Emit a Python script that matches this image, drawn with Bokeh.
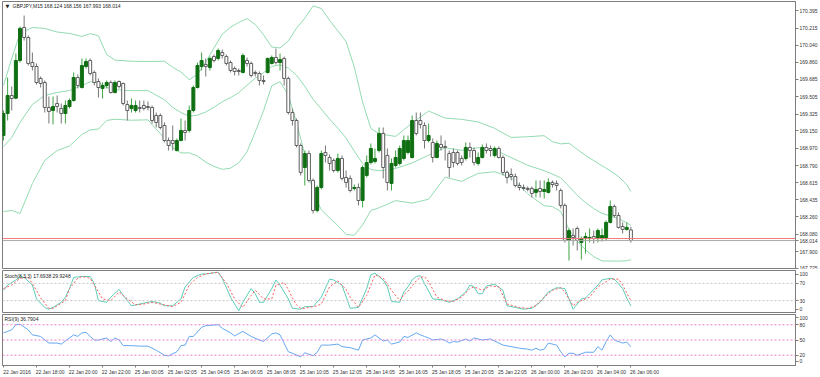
from bokeh.plotting import figure
from bokeh.layouts import column
from bokeh.models import (Range1d, FixedTicker, ColumnDataSource, Span, Label,
                          LinearAxis, PrintfTickFormatter)
from bokeh.embed import file_html
from bokeh.resources import INLINE

FONT = "Liberation Sans"

# ---------------- data (GBPJPY, M15) ----------------
opens = [169.103,169.331,169.517,169.490,169.880,170.222,170.118,169.859,169.818,169.694,
169.652,169.393,169.362,169.434,169.383,169.331,169.403,169.465,169.704,169.600,
169.818,169.880,169.756,169.662,169.590,169.621,169.652,169.548,169.662,169.642,
169.424,169.383,169.362,169.393,169.414,169.403,169.393,169.310,169.310,169.206,
169.051,169.051,168.947,169.051,169.155,169.155,169.362,169.600,169.818,169.838,
169.807,169.921,169.901,169.963,169.921,169.859,169.797,169.776,169.756,169.880,
169.849,169.756,169.745,169.673,169.756,169.849,169.911,169.859,169.901,169.694,
169.341,169.258,168.999,168.771,168.916,168.637,168.326,168.564,168.927,168.875,
168.844,168.740,168.865,168.668,168.658,168.554,168.564,168.429,168.689,168.823,
168.834,168.947,169.124,168.896,168.606,168.792,168.813,168.865,168.927,168.875,
169.258,169.258,169.206,169.051,169.030,168.875,169.010,168.989,168.916,168.927,
168.927,168.865,168.865,168.979,168.947,168.813,168.875,168.979,168.968,168.896,
168.968,168.875,168.720,168.699,168.678,168.585,168.564,168.554,168.554,168.513,
168.554,168.523,168.513,168.616,168.606,168.533,168.378,168.015,168.067,168.139,
167.994,168.035,168.035,168.056,168.035,168.035,168.035,168.202,168.367,168.274,
168.160,168.129,168.124]
highs = [169.362,169.704,169.611,169.952,170.232,170.346,170.139,169.963,169.849,169.714,
169.673,169.507,169.507,169.517,169.434,169.465,169.486,169.756,169.735,169.901,
169.901,169.901,169.776,169.694,169.652,169.673,169.673,169.673,169.673,169.652,
169.465,169.486,169.465,169.465,169.465,169.455,169.414,169.341,169.331,169.238,
169.082,169.206,169.072,169.279,169.258,169.414,169.621,169.859,169.963,169.901,
169.921,169.942,170.004,169.994,169.942,169.880,169.818,169.797,169.952,169.911,
169.870,169.776,169.766,169.725,169.911,169.932,170.004,169.952,169.921,169.714,
169.383,169.279,169.020,168.947,168.947,168.658,168.585,168.947,168.999,168.906,
168.865,168.916,168.896,168.740,168.689,168.595,168.606,168.792,168.896,169.020,
168.968,169.186,169.186,168.968,168.865,168.947,168.999,169.103,169.103,169.310,
169.341,169.341,169.238,169.227,169.072,169.051,169.103,169.051,168.947,168.968,
168.947,168.896,169.030,169.030,168.979,168.927,169.010,169.020,168.999,168.989,
168.989,168.896,168.740,168.761,168.709,168.616,168.595,168.575,168.575,168.637,
168.637,168.637,168.658,168.637,168.637,168.554,168.398,168.139,168.139,168.160,
168.056,168.098,168.139,168.118,168.139,168.139,168.222,168.429,168.388,168.305,
168.202,168.202,168.156]
lows = [169.051,169.258,169.362,169.480,169.859,170.087,169.828,169.776,169.631,169.600,
169.341,169.227,169.217,169.341,169.227,169.227,169.383,169.455,169.590,169.590,
169.797,169.725,169.621,169.496,169.486,169.590,169.538,169.538,169.590,169.414,
169.258,169.341,169.341,169.341,169.362,169.362,169.227,169.186,169.165,169.030,
168.947,168.947,168.937,169.041,169.051,169.134,169.341,169.590,169.776,169.714,
169.776,169.859,169.880,169.901,169.828,169.756,169.725,169.725,169.745,169.818,
169.704,169.714,169.621,169.631,169.745,169.838,169.838,169.776,169.621,169.320,
169.206,168.979,168.689,168.585,168.616,168.295,168.305,168.544,168.823,168.740,
168.720,168.720,168.637,168.564,168.513,168.533,168.378,168.357,168.668,168.803,
168.813,168.927,168.658,168.533,168.533,168.771,168.792,168.844,168.906,168.865,
169.103,169.175,168.968,169.030,168.823,168.865,168.947,168.844,168.668,168.771,
168.792,168.792,168.844,168.875,168.792,168.792,168.865,168.916,168.885,168.875,
168.865,168.689,168.606,168.637,168.564,168.533,168.533,168.523,168.461,168.461,
168.461,168.450,168.502,168.564,168.533,168.347,167.994,167.807,167.963,167.911,
167.818,167.880,167.994,167.984,167.994,168.004,168.015,168.191,168.253,168.139,
168.087,168.118,167.993]
closes = [169.331,169.517,169.486,169.880,170.212,170.118,169.849,169.818,169.652,169.642,
169.393,169.352,169.403,169.403,169.331,169.414,169.465,169.704,169.621,169.828,
169.870,169.745,169.652,169.600,169.621,169.652,169.548,169.652,169.611,169.434,
169.362,169.414,169.414,169.383,169.383,169.393,169.258,169.238,169.186,169.051,
168.999,169.020,169.051,169.155,169.134,169.362,169.600,169.828,169.880,169.818,
169.901,169.880,169.984,169.932,169.849,169.776,169.766,169.766,169.932,169.849,
169.725,169.745,169.673,169.662,169.901,169.911,169.859,169.890,169.694,169.341,
169.258,168.999,168.720,168.916,168.637,168.326,168.564,168.916,168.896,168.813,
168.740,168.865,168.658,168.616,168.533,168.564,168.429,168.771,168.823,168.968,
168.865,169.124,168.771,168.616,168.813,168.875,168.968,169.051,169.051,169.258,
169.124,169.217,169.051,169.103,168.875,169.020,168.979,168.979,168.771,168.823,
168.813,168.823,168.979,168.947,168.823,168.875,168.979,168.947,168.947,168.968,
168.875,168.720,168.668,168.678,168.585,168.564,168.554,168.544,168.502,168.544,
168.523,168.544,168.616,168.595,168.585,168.378,168.015,168.118,168.046,168.015,
168.035,168.056,168.046,168.035,168.118,168.067,168.202,168.367,168.274,168.150,
168.129,168.150,168.014]

# Bollinger bands (bar index, price)
bb_idx = [0,2,4,7,10,13,16, 19,21,23,25,27, 31,35,39,
          41,43,45,47,49,51,53,55,57,59,61,63,65,67,69,71,73,75,77,79,81,83,85,87,89,
          91,95,99,103,107,111,115,119,123,127,131,
          133,135,137,139,141,143,145,147,149,151, 152]
bb_upper = [169.621,169.901,170.160,170.222,170.212,170.175,170.160,
            170.129,170.158,170.137,169.942,169.884, 169.872,169.870,169.872,
            169.810,169.760,169.681,169.737,169.865,170.010,170.152,170.226,170.274,170.314,
            170.253,170.147,170.019,170.010,170.082,170.215,170.318,170.445,170.419,170.296,
            170.188,170.075,169.812,169.448,169.176,
            169.120,169.093,169.233,169.356,169.283,169.270,169.243,169.177,169.082,169.090,169.101,
            169.039,169.016,169.023,168.959,168.896,168.843,168.790,168.738,168.677,168.595,
            168.522]
bb_middle = [168.989,169.082,169.238,169.424,169.517,169.548,169.569,
             169.621,169.659,169.654,169.601,169.577, 169.567,169.568,169.473,
             169.393,169.341,169.302,169.314,169.346,169.396,169.452,169.495,169.547,169.624,
             169.696,169.753,169.819,169.835,169.802,169.726,169.612,169.478,169.376,169.272,
             169.179,169.076,168.940,168.813,168.750,
             168.737,168.761,168.818,168.899,168.976,168.949,168.976,168.952,168.874,168.794,168.738,
             168.702,168.665,168.576,168.483,168.408,168.345,168.296,168.270,168.239,168.200,
             168.170]
bb_lower = [168.315,168.326,168.294,168.605,168.845,168.947,168.994,
            169.113,169.161,169.170,169.259,169.271, 169.261,169.265,169.074,
            168.977,168.922,168.923,168.890,168.827,168.782,168.752,168.764,168.820,168.934,
            169.140,169.359,169.619,169.660,169.521,169.236,168.905,168.512,168.333,168.248,
            168.170,168.077,168.069,168.177,168.325,
            168.354,168.428,168.402,168.442,168.670,168.628,168.710,168.727,168.667,168.498,168.375,
            168.366,168.315,168.129,168.007,167.920,167.847,167.803,167.802,167.801,167.804,
            167.817]

# Stochastic(8,3,3): main and signal lines
stoch_k_idx = [0,1,3,4,5,7,8,10,11,12, 14,15,16,17,19,21,22,23,25,26,
               28,29,31,32,34,36,38,39,41,43, 44,46,48,49,52,53,55,57,58,60,
               61,62,63,65,66,67,69,70,72,73, 75,77,79,80,82,84,86,88,89,90,
               92,93,94,96,97,98,99,100,101,102, 104,106,108,110,112,113,114,115,116,117,
               119,121,122,124,126,128,130,132,134,136, 137,138,139,140,141,142,144,145,147,148,
               150,151,152]
stoch_k = [54,66,78,86,84,66,34,14,10,14, 26,38,58,84,86,86,70,30,26,38,
           56,42,18,20,24,28,24,18,18,34, 62,84,92,92,96,82,38,6,26,58,
           46,26,26,58,78,66,34,12,10,16, 16,38,80,78,66,12,14,58,90,94,
           78,62,28,26,50,62,78,86,88,70, 34,32,26,34,50,66,62,46,46,64,
           68,54,18,14,10,12,26,50,60,58, 34,10,22,34,36,46,66,78,82,80,
           58,36,17.6938]
stoch_d_idx = [0,2,4,6,7,9,11,12,15,16, 18,19,21,23,24,26,28,30,32,34,
               36,39,41,43,45,47,49,52,54,56, 58,60,61,63,65,66,68,69,70,71,
               72,73,76,77,79,81,83,84,86,88, 90,92,94,96,97,98,99,100,101,102,
               103,105,107,109,111,113,114,116,118,120, 122,125,127,129,131,133,135,136,138,139,
               142,144,147,149,150,152]
stoch_d = [58,66,82,84,70,36,12,12,30,58, 82,86,82,50,34,30,50,34,20,22,
           26,20,16,26,66,84,92,96,70,34, 14,42,54,34,34,66,72,56,36,20,
           12,12,18,22,62,76,56,38,14,42, 90,82,54,30,44,52,64,76,84,86,
           74,38,30,28,38,58,62,54,64,62, 22,14,12,18,38,54,60,50,18,26,
           38,62,80,80,66,29.9248]

# RSI(9)
rsi_idx = [0,1,2,3,4,6,7,9,10,11, 13,14,15,17,18,19,20,21,22,23,
           25,26,27,28,29,31,33,35,37,39, 40,42,43,44,45,46,48,49,52,53,
           55,56,58,60,62,63,65,66,67,69, 70,72,73,75,76,77,79,81,82,84,
           86,87,89,90,92,93,94,96,97,98, 100,101,102,103,104,106,107,108,109,110,
           112,113,114,116,118,119,121,123,125,127, 128,129,130,131,132,134,135,136,137,138,
           139,141,143,144,145,146,147,148,150,151, 152]
rsi = [64,67,70,80,81,70,60,57,50,44, 44,42,48,60,57,64,65,57,50,50,
       54,47,54,50,39,39,38,38,30,20, 19,27,39,40,57,57,75,78,80,73,
       64,58,67,57,50,47,62,64,60,27, 24,17,25,19,26,40,40,42,37,35,
       30,50,54,60,48,50,42,46,57,55, 64,60,57,54,50,52,49,44,47,46,
       52,48,54,50,52,48,40,37,34,32, 30,34,30,32,44,40,27,17,24,24,
       20,26,26,37,30,47,60,50,44,46, 36.7904]

price_ticks = [167.725, 167.900, 168.080, 168.260, 168.435, 168.615, 168.790, 168.970,
               169.150, 169.325, 169.505, 169.685, 169.860, 170.040, 170.215, 170.395]
stoch_tick_text = ["0", "30", "70", "100"]
rsi_tick_text = ["0", "20", "50", "80", "100"]
stoch_levels = [30, 70]
rsi_levels = [20, 50, 80]
time_ticks = list(range(0, 153, 8))
time_labels = ["22 Jan 2016", "22 Jan 18:00", "22 Jan 20:00", "22 Jan 22:00",
               "25 Jan 00:05", "25 Jan 02:05", "25 Jan 04:05", "25 Jan 06:05",
               "25 Jan 08:05", "25 Jan 10:05", "25 Jan 12:05", "25 Jan 14:05",
               "25 Jan 16:05", "25 Jan 18:05", "25 Jan 20:05", "25 Jan 22:05",
               "26 Jan 00:00", "26 Jan 02:00", "26 Jan 04:00", "26 Jan 06:00"]
bid_price = 168.014
ask_price = 168.035

# ---------------- styling / layout ----------------
FRAME = "#7d7d7d"
BB_COLOR = "#93dbb0"
UP_BODY = "#0f6f12"
UP_WICK = "#3fa545"
DN_LINE = "#5e5e5e"
DN_WICK = "#777777"
LABEL_SHIFT = 3.3                 # MT4 writes each time label right of its tick
STOCH_LABEL_POS = [10, 30, 70, 91]   # MT4 keeps the 0 / 100 labels inside the pane
RSI_LABEL_POS = [8, 20, 50, 80, 94]

xr = Range1d(-0.24, 191.88)


def make_fig(h, yr, bottom=0):
    p = figure(width=820, height=h, x_range=xr, y_range=yr, output_backend="svg",
               toolbar_location=None, x_axis_location=None, y_axis_location=None,
               min_border_left=2, min_border_right=23, min_border_top=1,
               min_border_bottom=bottom)
    p.grid.visible = False
    p.outline_line_color = FRAME
    p.outline_line_width = 1
    p.background_fill_color = "white"
    p.border_fill_color = "white"
    return p


def style_axis(ax, tick_out=3):
    ax.axis_line_color = FRAME
    ax.major_tick_line_color = FRAME
    ax.major_tick_in = 0
    ax.major_tick_out = tick_out
    ax.minor_tick_line_color = None
    ax.major_label_standoff = 1
    ax.major_label_text_font = FONT
    ax.major_label_text_font_size = "5px"
    ax.major_label_text_color = "#333333"


def right_axis(p, ticks, fmt="%.3f", texts=None):
    ax = LinearAxis(ticker=FixedTicker(ticks=ticks),
                    formatter=PrintfTickFormatter(format=fmt))
    if texts is not None:
        ax.major_label_overrides = {t: s for t, s in zip(ticks, texts)}
    style_axis(ax)
    p.add_layout(ax, "right")
    return ax


def panel_text(p, x, y, txt, font=FONT):
    p.add_layout(Label(x=x, y=y, x_units="screen", y_units="screen", text=txt,
                       text_font=font, text_font_size="5px", text_color="#222222",
                       text_baseline="middle", text_align="left"))


# ---------------- main price panel ----------------
p1 = make_fig(269, Range1d(167.7141, 170.4913))
right_axis(p1, price_ticks + [bid_price])

for band in (bb_upper, bb_middle, bb_lower):
    p1.line(bb_idx, band, color=BB_COLOR, line_width=1)

idx = list(range(len(opens)))
up = [i for i in idx if closes[i] >= opens[i]]
dn = [i for i in idx if closes[i] < opens[i]]


def candle_src(sel):
    return ColumnDataSource(dict(
        x=sel,
        high=[highs[i] for i in sel], low=[lows[i] for i in sel],
        top=[max(opens[i], closes[i]) for i in sel],
        bottom=[min(opens[i], closes[i]) for i in sel]))


s_up = candle_src(up)
s_dn = candle_src(dn)
p1.segment(x0="x", y0="low", x1="x", y1="high", source=s_dn, color=DN_WICK, line_width=1)
p1.segment(x0="x", y0="low", x1="x", y1="high", source=s_up, color=UP_WICK, line_width=1)
p1.vbar(x="x", width=0.72, top="top", bottom="bottom", source=s_dn,
        fill_color="white", line_color=DN_LINE, line_width=1)
p1.vbar(x="x", width=0.72, top="top", bottom="bottom", source=s_up,
        fill_color=UP_BODY, line_color=UP_BODY, line_width=1)

p1.add_layout(Span(location=ask_price, dimension="width", line_color="#f07a7a", line_width=1))
p1.add_layout(Span(location=bid_price, dimension="width", line_color="#a8a8a8", line_width=1))

panel_text(p1, 3, 264, "\u25BC", font="DejaVu Sans")
panel_text(p1, 10, 264, "GBPJPY,M15 %.3f %.3f %.3f %.3f"
           % (opens[-1], highs[-1], lows[-1], closes[-1]))

# ---------------- stochastic panel ----------------
p2 = make_fig(44, Range1d(0, 100))
right_axis(p2, STOCH_LABEL_POS, "%d", stoch_tick_text)
for lv in stoch_levels:
    p2.add_layout(Span(location=lv, dimension="width", line_color="#c4c4c4",
                       line_width=1, line_dash="2 2"))
p2.line(stoch_k_idx, stoch_k, color="#5ccdb8", line_width=1)
p2.line(stoch_d_idx, stoch_d, color="#ff5a5a", line_width=1, line_dash="2 2")
panel_text(p2, 2, 38, "Stoch(8,3,3) %.4f %.4f" % (stoch_k[-1], stoch_d[-1]))

# ---------------- RSI panel ----------------
p3 = make_fig(64, Range1d(0, 100), bottom=11)
right_axis(p3, RSI_LABEL_POS, "%d", rsi_tick_text)
for lv in rsi_levels:
    p3.add_layout(Span(location=lv, dimension="width", line_color="#f27fcf",
                       line_width=1, line_dash="2 2"))
p3.line(rsi_idx, rsi, color="#64a8f0", line_width=1)
panel_text(p3, 2, 47, "RSI(9) %.4f" % rsi[-1])

# time axis: small (minor) tick marks at the bars, labels written right of each tick
label_pos = [t + LABEL_SHIFT for t in time_ticks]
tax = LinearAxis(ticker=FixedTicker(ticks=label_pos, minor_ticks=time_ticks),
                 major_label_overrides={t: s for t, s in zip(label_pos, time_labels)})
style_axis(tax, tick_out=2)
tax.major_tick_line_color = None
tax.minor_tick_line_color = FRAME
tax.minor_tick_in = 0
tax.minor_tick_out = 2
tax.major_label_standoff = 1
p3.add_layout(tax, "below")

layout = column(p1, p2, p3, spacing=0)
open("out.html", "w").write(file_html(layout, INLINE))
